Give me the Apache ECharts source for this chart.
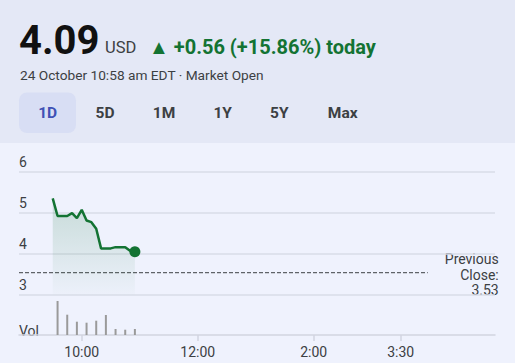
<!DOCTYPE html>
<html>
<head>
<meta charset="utf-8">
<script src="https://cdn.jsdelivr.net/npm/echarts@6/dist/echarts.min.js"></script>
<style>
  html, body { margin: 0; padding: 0; background: #eff2fd; }
  #chart { width: 515px; height: 363px; }
</style>
</head>
<body>
<div id="chart"></div>
<script>
// ---- Data ----
const priceTimes = ["9:30","9:35","9:40","9:45","9:50","9:55","10:00","10:05","10:10","10:15","10:20","10:25","10:30","10:35","10:40","10:45","10:50","10:55"];
const priceValues = [5.34, 4.91, 4.91, 4.91, 4.98, 4.86, 5.06, 4.80, 4.76, 4.60, 4.12, 4.12, 4.12, 4.15, 4.15, 4.15, 4.06, 4.04];
const volumeTimes = ["9:35","9:45","9:55","10:05","10:15","10:25","10:35","10:45","10:55"];
const volumeValues = [340, 203, 133, 123, 143, 200, 60, 53, 60];
const previousClose = 3.53;
const yTicks = [3, 4, 5, 6];
const xTickLabels = ["10:00", "12:00", "2:00", "3:30"];
const rangeTabs = ["1D", "5D", "1M", "1Y", "5Y", "Max"];
const headerPrice = "4.09";
const headerCurrency = "USD";
const headerChange = "▲ +0.56 (+15.86%) today";
const headerDate = "24 October 10:58 am EDT · Market Open";

// ---- Helpers ----
function toMinutes(t) {
  const [h, m] = t.split(":").map(Number);
  const hh = h < 8 ? h + 12 : h; // afternoon labels
  return hh * 60 + m;
}
const X_MIN = 535.1, X_MAX = 1027.6;
const MARKET_CLOSE = toMinutes("4:00");

const priceData = priceTimes.map((t, i) => [toMinutes(t), priceValues[i]]);
const volumeData = volumeTimes.map((t, i) => [toMinutes(t), volumeValues[i]]);
const lastPoint = priceData[priceData.length - 1];
const xTickValues = xTickLabels.map(toMinutes);

const FONT = "Roboto, 'Noto Sans', sans-serif";
const TEXT = "#3c4043";
const GREEN = "#137333";
const GRID_COLOR = "#d9dce7";

const tabCenters = [47.7, 105, 164, 222.7, 279.3, 342.7];

const graphics = [
  { type: 'rect', shape: { x: 0, y: 0, width: 515, height: 143 }, style: { fill: '#e4e8f6' }, z: -10, silent: true },
  { type: 'rect', shape: { x: 19, y: 92.5, width: 57, height: 40.5, r: 8 }, style: { fill: '#d8def4' }, z: -5 },
  { type: 'text', x: 19, y: 40, style: { text: headerPrice, font: "bold 40px " + FONT, fill: '#111', verticalAlign: 'middle' } },
  { type: 'text', x: 105, y: 47.5, style: { text: headerCurrency, font: "16.5px " + FONT, fill: TEXT, verticalAlign: 'middle' } },
  { type: 'text', x: 149, y: 47.3, style: { text: headerChange, font: "bold 20px " + FONT, fill: GREEN, verticalAlign: 'middle' } },
  { type: 'text', x: 20, y: 75, style: { text: headerDate, font: "13.7px " + FONT, fill: TEXT, verticalAlign: 'middle' } },
  { type: 'text', x: 19, y: 331, style: { text: "Vol", font: "14px " + FONT, fill: TEXT, verticalAlign: 'middle' } },
  { type: 'text', x: 498.7, y: 274.5, style: { text: "Previous\nClose:\n" + previousClose.toFixed(2), font: "14px " + FONT, fill: TEXT, align: 'right', verticalAlign: 'middle', lineHeight: 15.8 } }
];
rangeTabs.forEach((t, i) => {
  graphics.push({ type: 'text', x: tabCenters[i], y: 112.7, style: { text: t, font: "bold 15.5px " + FONT, fill: i === 0 ? '#3f51b5' : TEXT, align: 'center', verticalAlign: 'middle' } });
});

const chart = echarts.init(document.getElementById('chart'), null, { renderer: 'svg' });
chart.setOption({
  backgroundColor: '#eff2fd',
  animation: false,
  textStyle: { fontFamily: FONT },
  graphic: graphics,
  grid: [
    { left: 19, width: 476, top: 171.3, height: 123 },
    { left: 19, width: 476, top: 296, height: 39 }
  ],
  xAxis: [
    { type: 'value', gridIndex: 0, min: X_MIN, max: X_MAX, show: false, splitLine: { show: false } },
    {
      type: 'value', gridIndex: 1, min: X_MIN, max: X_MAX,
      axisLine: { show: true, lineStyle: { color: '#d2d5e0', width: 1.5 } },
      axisTick: { show: true, customValues: xTickValues, length: 6, lineStyle: { color: '#d2d5e0', width: 1.5 } },
      axisLabel: {
        customValues: xTickValues, margin: 10,
        formatter: v => xTickLabels[xTickValues.indexOf(v)] || '',
        color: TEXT, fontSize: 14, fontFamily: FONT
      },
      splitLine: { show: false }
    }
  ],
  yAxis: [
    {
      type: 'value', gridIndex: 0, min: yTicks[0], max: yTicks[yTicks.length - 1], interval: 1,
      axisLine: { show: false }, axisTick: { show: false },
      axisLabel: { inside: true, margin: 0, verticalAlign: 'bottom', padding: [0, 0, 2, 0], color: TEXT, fontSize: 14, fontFamily: FONT },
      splitLine: { show: true, lineStyle: { color: GRID_COLOR, width: 1.5 } }
    },
    { type: 'value', gridIndex: 1, min: 0, max: 390, show: false, splitLine: { show: false } }
  ],
  series: [
    {
      type: 'line', xAxisIndex: 0, yAxisIndex: 0,
      data: priceData, symbol: 'none', smooth: false,
      lineStyle: { color: GREEN, width: 2.5 },
      areaStyle: {
        origin: 'start',
        color: new echarts.graphic.LinearGradient(0, 0, 0, 1, [
          { offset: 0, color: 'rgba(19,115,51,0.26)' },
          { offset: 1, color: 'rgba(19,115,51,0.02)' }
        ])
      },
      z: 3
    },
    {
      type: 'line', xAxisIndex: 0, yAxisIndex: 0,
      data: [[X_MIN, previousClose], [MARKET_CLOSE - 2, previousClose]],
      symbol: 'none', lineStyle: { color: '#5f6368', width: 1.2, type: [4, 2] }, z: 2
    },
    {
      type: 'scatter', xAxisIndex: 0, yAxisIndex: 0,
      data: [lastPoint], symbol: 'circle', symbolSize: 11,
      itemStyle: { color: GREEN, opacity: 1 }, z: 4
    },
    {
      type: 'bar', xAxisIndex: 1, yAxisIndex: 1,
      data: volumeData, barWidth: 2,
      itemStyle: { color: '#9a9a9a' }
    }
  ]
});
</script>
</body>
</html>
